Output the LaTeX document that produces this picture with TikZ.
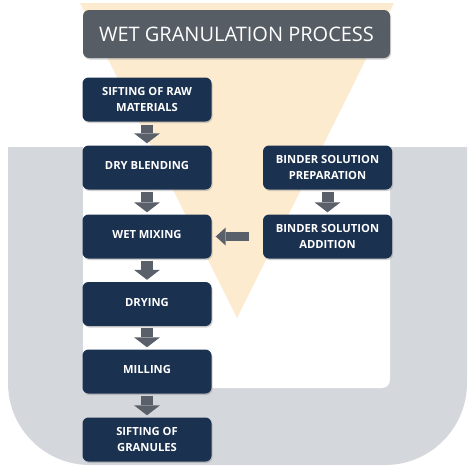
\documentclass[tikz,border=0pt]{standalone}
\usepackage{fontspec}
\setmainfont{Open Sans}
\usetikzlibrary{arrows.meta,shadows}
\definecolor{navy}{HTML}{1B3150}
\definecolor{titlegray}{HTML}{575D65}
\definecolor{beige}{HTML}{FCEBCF}
\definecolor{panelgray}{HTML}{D4D7DB}
\definecolor{arrowgray}{HTML}{5A6069}
\newcommand{\upline}[1]{\raisebox{3.5pt}{#1}}
\begin{document}
\begin{tikzpicture}[x=1pt,y=-1pt,
  stepbox/.style={fill=navy, rounded corners=6pt, minimum width=129pt, minimum height=44pt,
    text=white, align=center, font=\bfseries\fontsize{11.2}{16.5}\selectfont,
    drop shadow={opacity=0.35, shadow xshift=1pt, shadow yshift=-1.5pt}},
  titlebox/.style={fill=titlegray, rounded corners=6pt, minimum width=307pt, minimum height=48pt,
    text=white, font=\fontsize{20}{22}\selectfont,
    drop shadow={opacity=0.35, shadow xshift=1pt, shadow yshift=-1.5pt}},
  downarr/.style={draw=arrowgray, line width=12pt,
    -{Triangle[width=26pt,length=10pt,line width=0pt]}},
  leftarr/.style={draw=arrowgray, line width=8.5pt,
    -{Triangle[width=18pt,length=10pt,line width=0pt]}}
]
\useasboundingbox (0,0) rectangle (474,474);
% grey U panel
\begin{scope}
  \clip (0,147) rectangle (474,474);
  \fill[panelgray, rounded corners=82pt] (8,0) rectangle (467,465);
\end{scope}
\fill[white, rounded corners=8pt] (83,100) rectangle (390,388);
% beige funnel
\fill[beige] (80,3) -- (394,3) -- (237,318) -- cycle;
% title
\node[titlebox] (title) at (236.5,34) {WET GRANULATION PROCESS};
% left column
\node[stepbox] (s1) at (147,99.5) {SIFTING OF RAW\\MATERIALS};
\node[stepbox] (s2) at (147,167.5) {\upline{DRY BLENDING}};
\node[stepbox] (s3) at (147,236.5) {\upline{WET MIXING}};
\node[stepbox] (s4) at (147,304) {\upline{DRYING}};
\node[stepbox] (s5) at (147,371.5) {\upline{MILLING}};
\node[stepbox] (s6) at (147,439.5) {SIFTING OF\\GRANULES};
% right column
\node[stepbox] (b1) at (327.5,167.5) {BINDER SOLUTION\\PREPARATION};
\node[stepbox] (b2) at (327.5,236.5) {BINDER SOLUTION\\ADDITION};
% arrows
\draw[downarr, shorten <=3pt, shorten >=2pt] (s1.south) -- (s2.north);
\draw[downarr, shorten <=2pt, shorten >=2pt] (s2.south) -- (s3.north);
\draw[downarr, shorten <=2pt, shorten >=2pt] (s3.south) -- (s4.north);
\draw[downarr, shorten <=2pt, shorten >=2pt] (s4.south) -- (s5.north);
\draw[downarr, shorten <=2pt, shorten >=2pt] (s5.south) -- (s6.north);
\draw[downarr, shorten <=2pt, shorten >=2pt] (b1.south) -- (b2.north);
\draw[leftarr, shorten <=14pt, shorten >=4pt] (b2.west) -- (s3.east);
\end{tikzpicture}
\end{document}
